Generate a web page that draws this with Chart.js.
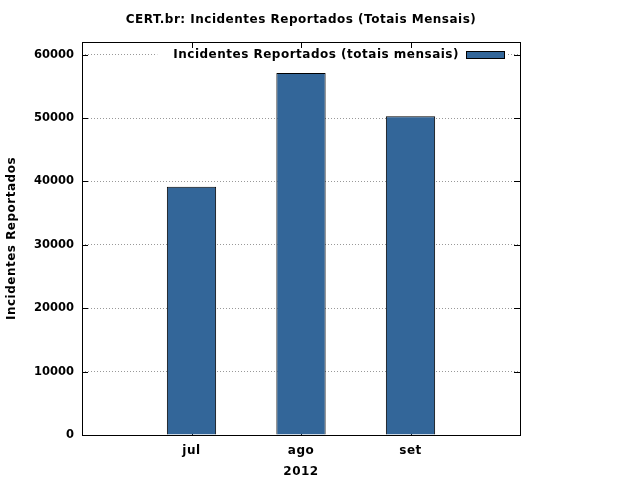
<!DOCTYPE html>
<html>
<head>
<meta charset="utf-8">
<script src="https://cdn.jsdelivr.net/npm/chart.js@4"></script>
<style>
  html, body { margin: 0; padding: 0; background: #fff; }
  #wrap { width: 640px; height: 480px; }
</style>
</head>
<body>
<div id="wrap"><canvas id="chart" width="640" height="480"></canvas></div>
<script>
/* dados */
const months = ['jul', 'ago', 'set'];
const incidents = [39150, 57100, 50300];
const yTicks = [0, 10000, 20000, 30000, 40000, 50000, 60000];
const yMin = 0;
const yMax = 62000;

const chartTitle = 'CERT.br: Incidentes Reportados (Totais Mensais)';
const seriesLabel = 'Incidentes Reportados (totais mensais)';
const xTitle = '2012';
const yTitle = 'Incidentes Reportados';

const FONT = { family: '"DejaVu Sans", sans-serif', size: 12, weight: 'bold' };
const TICK_FONT = { family: '"DejaVu Sans", sans-serif', size: 11.5, weight: 'bold' };
const BAR_COLOR = '#336699';

// one empty category on each side, like the gnuplot xrange
const labels = ['', ...months, ''];
const values = [null, ...incidents, null];

/* gnuplot's text is a bit wider than the canvas one */
const spacing = {
  id: 'spacing',
  beforeDraw(chart) { chart.ctx.letterSpacing = '0.5px'; },
};

/* ticks internos (estilo gnuplot), desenhados atras das barras */
const innerTicks = {
  id: 'innerTicks',
  beforeDatasetsDraw(chart) {
    const { ctx, chartArea: a, scales: { x, y } } = chart;
    ctx.save();
    ctx.strokeStyle = '#000';
    ctx.lineWidth = 1;
    ctx.beginPath();
    y.ticks.forEach(t => {
      const py = Math.round(y.getPixelForValue(t.value)) + 0.5;
      ctx.moveTo(a.left, py); ctx.lineTo(a.left + 6, py);
      ctx.moveTo(a.right - 6, py); ctx.lineTo(a.right, py);
    });
    months.forEach((m, i) => {
      const px = Math.round(x.getPixelForValue(i + 1)) + 0.5;
      ctx.moveTo(px, a.top); ctx.lineTo(px, a.top + 6);
      ctx.moveTo(px, a.bottom); ctx.lineTo(px, a.bottom - 6);
    });
    ctx.stroke();

    // rotulos do eixo y (digitos sem espacamento extra)
    ctx.letterSpacing = '0px';
    ctx.font = `${TICK_FONT.weight} ${TICK_FONT.size}px ${TICK_FONT.family}`;
    ctx.fillStyle = '#000';
    ctx.textAlign = 'right';
    ctx.textBaseline = 'middle';
    y.ticks.forEach(t => {
      ctx.fillText(String(t.value), a.left - 8, y.getPixelForValue(t.value));
    });
    ctx.restore();
  },
};

/* moldura, titulo e legenda */
const frameAndLegend = {
  id: 'frameAndLegend',
  afterDatasetsDraw(chart) {
    const { ctx, chartArea: a } = chart;
    ctx.save();
    ctx.strokeStyle = '#000';
    ctx.lineWidth = 1;
    ctx.strokeRect(a.left + 0.5, a.top + 0.5, a.right - a.left, a.bottom - a.top);

    ctx.font = `${FONT.weight} ${FONT.size}px ${FONT.family}`;
    ctx.fillStyle = '#000';
    ctx.textBaseline = 'middle';

    // titulo
    ctx.textAlign = 'center';
    ctx.fillText(chartTitle, (a.left + a.right) / 2, 20);

    // legenda (opaca, cobre a grade)
    const ly = 55;
    const keyRight = a.right - 16;
    const keyLeft = keyRight - 38;
    const textRight = keyLeft - 7;
    const tw = ctx.measureText(seriesLabel).width;
    ctx.fillStyle = '#fff';
    ctx.fillRect(textRight - tw - 16, ly - 6, keyRight + 4 - (textRight - tw - 16), 12);
    ctx.fillStyle = '#000';
    ctx.textAlign = 'right';
    ctx.fillText(seriesLabel, textRight, ly);
    ctx.fillStyle = BAR_COLOR;
    ctx.fillRect(keyLeft, ly - 4, keyRight - keyLeft, 7);
    ctx.strokeRect(keyLeft + 0.5, ly - 3.5, keyRight - keyLeft, 7);
    ctx.restore();
  },
};

new Chart(document.getElementById('chart'), {
  type: 'bar',
  data: {
    labels,
    datasets: [{
      label: seriesLabel,
      data: values,
      backgroundColor: BAR_COLOR,
      borderColor: '#000',
      borderWidth: 1,
      inflateAmount: 0,
      categoryPercentage: 0.9,
      barPercentage: 0.5,
    }],
  },
  options: {
    responsive: false,
    animation: false,
    events: [],
    layout: { padding: { top: 42, right: 120, bottom: 0, left: 0 } },
    plugins: {
      legend: { display: false },
      title: { display: false },
      tooltip: { enabled: false },
    },
    scales: {
      x: {
        offset: false,
        grid: { display: false, drawTicks: false },
        border: { display: false },
        ticks: { color: '#000', font: FONT, padding: 9, autoSkip: false, maxRotation: 0 },
        title: { display: true, text: xTitle, color: '#000', font: FONT, padding: { top: 0, bottom: 1 } },
        afterFit: s => { s.height = 45; },
      },
      y: {
        min: yMin,
        max: yMax,
        afterBuildTicks: s => { s.ticks = yTicks.map(v => ({ value: v })); },
        grid: { color: '#999', lineWidth: 1, drawTicks: false },
        border: { display: false, dash: [1, 2] },
        ticks: { display: false },
        title: { display: true, text: yTitle, color: '#000', font: FONT, padding: { top: 5, bottom: 0 } },
        afterFit: s => { s.width = 82; },
      },
    },
  },
  plugins: [spacing, innerTicks, frameAndLegend],
});
</script>
</body>
</html>
